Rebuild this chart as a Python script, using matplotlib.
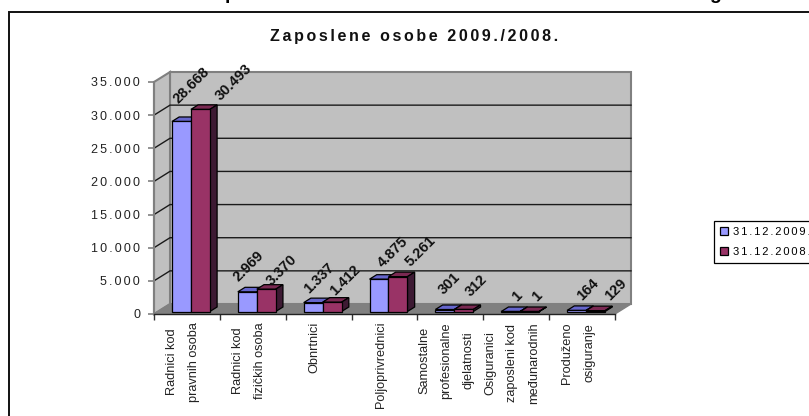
#!/usr/bin/env python3
# -*- coding: utf-8 -*-
import matplotlib
matplotlib.use('Agg')
import matplotlib.pyplot as plt
from matplotlib.patches import Polygon, Rectangle, Patch

plt.rcParams['font.family'] = ['Liberation Sans', 'DejaVu Sans']

SP = '\u2006'   # razmak izmedu slova


def razmakni(tekst):
    return SP.join(tekst)


kategorije = ['Radnici kod\npravnih osoba', 'Radnici kod\nfizičkih osoba', 'Obnrtnici',
              'Poljoprivrednici', 'Samostalne\nprofesionalne\ndjelatnosti',
              'Osiguranici\nzaposleni kod\nmeđunarodnih', 'Produženo\nosiguranje']
god2009 = [28668, 2969, 1337, 4875, 301, 1, 164]
god2008 = [30493, 3370, 1412, 5261, 312, 1, 129]
oznake2009 = ['28.668', '2.969', '1.337', '4.875', '301', '1', '164']
oznake2008 = ['30.493', '3.370', '1.412', '5.261', '312', '1', '129']
y_tickovi = [0, 5000, 10000, 15000, 20000, 25000, 30000, 35000]
y_oznake = ['0', '5.000', '10.000', '15.000', '20.000', '25.000', '30.000', '35.000']
naslov = 'Zaposlene osobe 2009./2008.'
legenda = ['31.12.2009.', '31.12.2008.']

# pomaci oznaka u pikselima od sredine vrha stupca
pomak2009 = [(6, -34), (-2, -23), (2, -22), (10, -25), (1, -24), (3, -13), (8, -19)]
pomak2008 = [(30, -25), (12, -17), (9, -20), (19, -23), (9, -22), (4, -13), (17, -19)]

L, R, T, B = 154, 615, 82, 314
W, H = 809, 416
fig = plt.figure(figsize=(W / 100, H / 100), dpi=100)
ax = fig.add_axes([L / W, (H - B) / H, (R - L) / W, (B - T) / H])
ax.set_xlim(0, 7)
ax.set_ylim(0, 35000)
for s in ax.spines.values():
    s.set_visible(False)
ax.patch.set_visible(False)

px_x = 7 / (R - L)
px_y = 35000 / (B - T)
DX = 16 * px_x    # dubina 3D prikaza
DY = 10 * px_y

SIVA = '#808080'
# zidovi i pod
ax.add_patch(Polygon([(DX, DY), (7 + DX, DY), (7 + DX, 35000 + DY), (DX, 35000 + DY)],
                     fc='#c0c0c0', ec=SIVA, lw=1.5, clip_on=False, zorder=1))
ax.add_patch(Polygon([(0, 0), (DX, DY), (DX, 35000 + DY), (0, 35000)],
                     fc='#c0c0c0', ec=SIVA, lw=1.5, clip_on=False, zorder=1))
ax.add_patch(Polygon([(0, 0), (7, 0), (7 + DX, DY), (DX, DY)],
                     fc=SIVA, ec=SIVA, lw=1, clip_on=False, zorder=2))
# mreza
for v in y_tickovi[1:-1]:
    ax.plot([0, DX, 7 + DX], [v, v + DY, v + DY], color='#1a1a1a', lw=1, clip_on=False, zorder=2,
            solid_joinstyle='miter')


def stupac(x, sirina, v, boja, boja_vrh, boja_bok):
    x0 = x + 0.25 * DX
    y0 = 0.25 * DY
    dx = 0.45 * DX
    dy = 0.45 * DY
    x1 = x0 + sirina
    y1 = y0 + v
    ax.add_patch(Polygon([(x0, y1), (x1, y1), (x1 + dx, y1 + dy), (x0 + dx, y1 + dy)],
                         fc=boja_vrh, ec='black', lw=0.9, clip_on=False, zorder=3))
    ax.add_patch(Polygon([(x1, y0), (x1 + dx, y0 + dy), (x1 + dx, y1 + dy), (x1, y1)],
                         fc=boja_bok, ec='black', lw=0.9, clip_on=False, zorder=3))
    ax.add_patch(Polygon([(x0, y0), (x1, y0), (x1, y1), (x0, y1)],
                         fc=boja, ec='black', lw=0.9, clip_on=False, zorder=3))
    return x0 + sirina / 2 + dx / 2, y1 + dy / 2


sirina = 0.288
for i in range(7):
    s = i + 0.5
    for x, v, txt, pom, c1, c2, c3 in [
            (s - sirina, god2009[i], oznake2009[i], pomak2009[i], '#9999ff', '#6666cc', '#4c4c80'),
            (s, god2008[i], oznake2008[i], pomak2008[i], '#993366', '#7a2952', '#3d1a33')]:
        xc, yc = stupac(x, sirina, v, c1, c2, c3)
        ax.annotate(txt, (xc, yc), xytext=(pom[0], -pom[1]), textcoords='offset pixels',
                    rotation=45, ha='center', va='center', fontsize=10.5, fontweight='bold',
                    color='#111111', zorder=5, annotation_clip=False)

# osi
ax.plot([0, 0], [0, 35000], color=SIVA, lw=1.5, clip_on=False, zorder=2)
ax.plot([0, 7], [0, 0], color='#222222', lw=1, clip_on=False, zorder=2)
ax.set_yticks(y_tickovi)
ax.set_yticklabels([razmakni(t) for t in y_oznake], fontsize=9, color='#222222')
ax.set_xticks(range(8))
ax.set_xticklabels([])
ax.tick_params(axis='y', length=4, width=1.2, color=SIVA, pad=6)
ax.tick_params(axis='x', length=4, width=1, color='#333333')

# kategorije
for i, k in enumerate(kategorije):
    ax.annotate(k, (i + 0.5, 0), xytext=(-4, -8), textcoords='offset pixels',
                rotation=90, ha='center', va='top', multialignment='center',
                fontsize=9.2, linespacing=2.1, color='#222222', annotation_clip=False)

# naslov
fig.text(414 / W, 1 - 36 / H, razmakni(naslov),
         ha='center', va='center', fontsize=11.5, fontweight='bold', color='#111111')
# okvir ide preko desnog i donjeg ruba slike
fig.add_artist(Rectangle((8.5 / W, -0.1), 1, 1.1 - 12.5 / H, transform=fig.transFigure,
                         fc='none', ec='#111111', lw=1.4))
# donji dijelovi gornjeg naslova koji je odrezan
fig.text(231 / W, 1 + 1 / H, 'p', ha='center', va='baseline', fontsize=14, fontweight='bold')
fig.text(715 / W, 1 + 1 / H, 'g', ha='center', va='baseline', fontsize=14, fontweight='bold')

# legenda
rucke = [Patch(fc='#9999ff', ec='black', lw=0.9), Patch(fc='#993366', ec='black', lw=0.9)]
leg = fig.legend(rucke, [razmakni(t) for t in legenda], loc='upper left',
                 bbox_to_anchor=(714 / W, 1 - 221 / H), fontsize=8, frameon=True, fancybox=False,
                 edgecolor='black', framealpha=1, handlelength=0.72, handleheight=0.72,
                 handletextpad=0.5, borderpad=0.5, labelspacing=0.95, borderaxespad=0)
leg.get_frame().set_linewidth(0.9)

fig.savefig('out.png', dpi=100)
